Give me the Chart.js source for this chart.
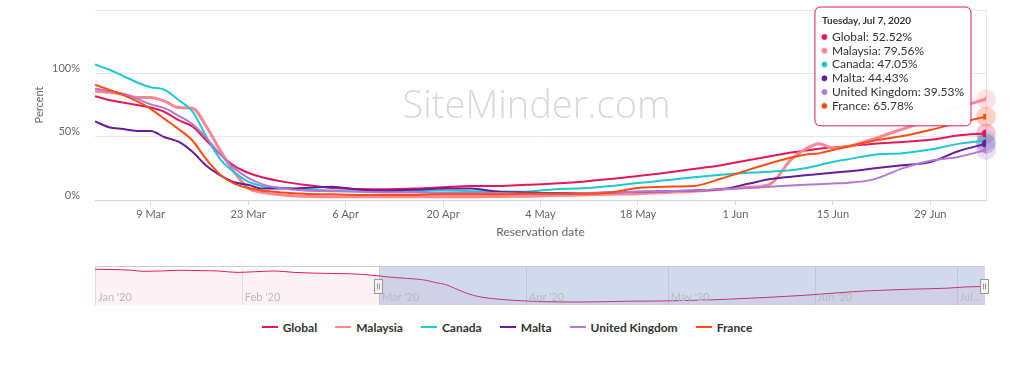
<!DOCTYPE html>
<html>
<head>
<meta charset="utf-8">
<script src="https://cdn.jsdelivr.net/npm/chart.js@4.4.1/dist/chart.umd.min.js"></script>
<style>
  body { margin: 0; background: #fff; font-family: Lato, sans-serif; }
  #wrap { position: relative; width: 1024px; height: 366px; overflow: hidden; }
  #main { position: absolute; left: 0; top: 0; }
  #nav { position: absolute; left: 0; top: 250px; }
  #legend { position: absolute; left: -5px; top: 319px; width: 1024px; display: flex; justify-content: center;
            font: bold 12px Lato, sans-serif; color: #333; }
  #legend .item { display: flex; align-items: center; margin: 0 9px; height: 16px; }
  #legend .swatch { width: 16px; height: 2px; margin-right: 5px; }
</style>
</head>
<body>
<div id="wrap">
  <canvas id="main" width="1024" height="250"></canvas>
  <canvas id="nav" width="1024" height="60"></canvas>
  <div id="legend"></div>
</div>
<script>
// Reservation date, as days after 1 Mar 2020
const days = [0,2,4,6,8,10,12,14,16,18,20,22,24,27,30,34,38,42,46,50,54,58,62,66,70,74,78,82,86,90,94,97,100,102,104,106,108,112,116,120,124,128];

// Percent per series
const globalVals   = [82,79,77,75,73,69.5,63,58,47,36,27,21.5,18,14.5,12,9.5,8.7,8.5,9,10,11,11,12,13,14.5,16.5,19,21.5,24.5,27.5,31.5,34.5,37.5,39,40.5,41.5,42.5,44.5,45.8,47.5,51,52.52];
const malaysiaVals = [86,85,83.5,81,81,78,73,72.5,58,39,22,9.5,6,4,3,2.5,2.5,2.5,2.5,2.5,2.5,2.8,3,3.5,4,4.5,5,6,7,8.5,10,12.5,32,40,44.5,41,42,48.5,56,63.5,73,79.56];
const canadaVals   = [107,103,98,93,89,87,79,70,50,32,22,14.5,11,9.5,8.5,7.5,7,7,7,7.5,7,6.8,6.6,8.5,9.2,11,13.5,15.5,18,20,21.5,22.4,23.5,25,27.5,30,32,35.8,37,39.8,44.3,47.05];
const maltaVals    = [62,57.5,56,54.5,54.5,49.5,46,38,27,19.5,14,12,9,9,9.5,10.5,8,7.5,8,9,9,6.5,6,5.5,5.5,6,6.5,7,7.5,8.4,13,16.5,18.4,19.5,20.5,21.5,22.5,25,27.5,30,38.5,44.43];
const ukVals       = [88,86,84,80,75.5,72.5,66.5,60,49,36,25,17.5,12.5,9,7.5,7,6.5,6,6,5.5,5.5,5.5,5,5,5.5,6,6.5,7,7.5,8.5,9.5,10.5,11.5,12,12.5,13,13.5,16.5,25,31,34,39.53];
const franceVals   = [91,87,83,78,72,64,56,47,32,20,13,9.5,7.5,6,5,4.5,4,4,4,4.5,4.5,4.5,5,5,5,6,9.5,10.5,11,17,24,29,33.5,35.8,36.8,39.5,42,47,50.5,55.3,61,65.78];

const seriesNames  = ['Global', 'Malaysia', 'Canada', 'Malta', 'United Kingdom', 'France'];
const seriesValues = [globalVals, malaysiaVals, canadaVals, maltaVals, ukVals, franceVals];
const seriesColors = ['#e3175b', '#ff8590', '#1ec8d2', '#6a1b9a', '#b478d4', '#ff4d12'];
const seriesWidths = [2, 3, 2, 2, 2, 2];
const seriesSymbols = ['circle', 'triangle', 'rect', 'circle', 'rectRot', 'rect'];

// x axis ticks (days after 1 Mar)
const tickDays   = [8, 22, 36, 50, 64, 78, 92, 106, 120];
const tickLabels = ['9 Mar', '23 Mar', '6 Apr', '20 Apr', '4 May', '18 May', '1 Jun', '15 Jun', '29 Jun'];
const tooltipTitle = 'Tuesday, Jul 7, 2020';

// Navigator: Global from 1 Jan 2020 (days after 1 Jan)
const navEarlyDays = [0, 4, 8, 10, 14, 18, 22, 26, 30, 34, 38, 42, 46, 50, 54, 57];
const navEarlyVals = [101, 100, 98, 95, 96, 98, 97, 96, 92, 94, 96, 92, 90, 89, 88, 86];
const navMarchStart = 60;
const navMonthDays   = [0, 31, 60, 91, 121, 152, 182];
const navMonthLabels = ["Jan '20", "Feb '20", "Mar '20", "Apr '20", "May '20", "Jun '20", "Jul..."];

const lastIndex = days.length - 1;

function withAlpha(hex, a) {
  const n = parseInt(hex.slice(1), 16);
  return `rgba(${n >> 16},${(n >> 8) & 255},${n & 255},${a})`;
}

// watermark + halos behind the lines, crosshair line
const decorPlugin = {
  id: 'decor',
  beforeDatasetsDraw(chart) {
    const { ctx, chartArea } = chart;
    ctx.save();
    ctx.font = "300 38px 'Open Sans', sans-serif";
    ctx.fillStyle = '#d9d9d9';
    ctx.textAlign = 'center';
    ctx.textBaseline = 'middle';
    ctx.fillText('SiteMinder.com', (chartArea.left + chartArea.right) / 2 - 4, (chartArea.top + chartArea.bottom) / 2 + 2);

    const lastPt = chart.getDatasetMeta(0).data[lastIndex];
    ctx.strokeStyle = '#e6e6e6';
    ctx.lineWidth = 1;
    ctx.beginPath();
    ctx.moveTo(Math.round(lastPt.x) + 0.5, chartArea.top);
    ctx.lineTo(Math.round(lastPt.x) + 0.5, chartArea.bottom);
    ctx.stroke();

    chart.data.datasets.forEach((ds, i) => {
      const p = chart.getDatasetMeta(i).data[lastIndex];
      ctx.fillStyle = withAlpha(seriesColors[i], 0.25);
      ctx.beginPath();
      ctx.arc(p.x, p.y, 10, 0, Math.PI * 2);
      ctx.fill();
    });
    ctx.restore();
  }
};

Chart.Tooltip.positioners.besideLast = function (elements) {
  if (!elements.length) return false;
  const ca = this.chart.chartArea;
  return { x: elements[0].element.x - 21, y: ca.top - 3, xAlign: 'right', yAlign: 'top' };
};

const mainChart = new Chart(document.getElementById('main').getContext('2d'), {
  type: 'line',
  data: {
    datasets: seriesNames.map((name, i) => ({
      label: name,
      data: days.map((d, j) => ({ x: d, y: seriesValues[i][j] })),
      borderColor: seriesColors[i],
      backgroundColor: seriesColors[i],
      borderWidth: seriesWidths[i],
      pointStyle: seriesSymbols[i],
      pointRadius: ctx => ctx.dataIndex === lastIndex ? 4 : 0,
      pointHoverRadius: ctx => ctx.dataIndex === lastIndex ? 4 : 0,
      pointBorderWidth: 0,
      cubicInterpolationMode: 'monotone',
      order: seriesNames.length - i,
      fill: false
    }))
  },
  options: {
    responsive: false,
    animation: false,
    events: [],
    layout: { padding: { left: 0, right: 38, top: 10, bottom: 0 } },
    scales: {
      x: {
        type: 'linear',
        min: 0,
        max: days[lastIndex],
        afterBuildTicks: scale => { scale.ticks = tickDays.map(v => ({ value: v })); },
        afterFit: scale => { scale.height = 50; scale.paddingLeft = 0; scale.paddingRight = 0; },
        grid: { drawOnChartArea: false, drawTicks: true, tickLength: 5, color: '#ccd6eb' },
        border: { color: '#ccd6eb' },
        ticks: {
          autoSkip: false, maxRotation: 0, padding: 3,
          color: '#666', font: { family: 'Lato', size: 11 },
          callback: v => tickLabels[tickDays.indexOf(v)]
        },
        title: { display: true, text: 'Reservation date', color: '#666',
                 font: { family: 'Lato', size: 12 }, padding: { top: 0, bottom: 11 } }
      },
      y: {
        min: 0,
        max: 150,
        afterFit: scale => { scale.width = 95; scale.paddingTop = 0; scale.paddingBottom = 0; },
        grid: { color: '#e6e6e6', drawTicks: false },
        border: { display: false },
        ticks: {
          stepSize: 50, padding: 15, labelOffset: -5,
          color: '#666', font: { family: 'Lato', size: 11 },
          callback: v => v === 150 ? '' : v + '%'
        },
        title: { display: true, text: 'Percent', color: '#666',
                 font: { family: 'Lato', size: 11 }, padding: { top: 33, bottom: 0 } }
      }
    },
    plugins: {
      legend: { display: false },
      tooltip: {
        enabled: true,
        position: 'besideLast',
        backgroundColor: 'rgba(255,255,255,0.96)',
        borderColor: seriesColors[0],
        borderWidth: 1,
        cornerRadius: 6,
        caretSize: 0,
        caretPadding: 0,
        padding: { left: 7, right: 7, top: 8, bottom: 13 },
        titleColor: '#333',
        titleFont: { family: 'Lato', size: 10, weight: 'bold' },
        titleMarginBottom: 3,
        bodyColor: '#333',
        bodyFont: { family: 'Lato', size: 12, lineHeight: 1.15 },
        bodySpacing: 0,
        usePointStyle: true,
        boxWidth: 5,
        boxHeight: 5,
        boxPadding: 3,
        itemSort: (a, b) => a.datasetIndex - b.datasetIndex,
        callbacks: {
          title: () => tooltipTitle,
          label: item => `${item.dataset.label}: ${item.parsed.y.toFixed(2)}%`,
          labelColor: item => ({ borderColor: seriesColors[item.datasetIndex], backgroundColor: seriesColors[item.datasetIndex], borderWidth: 0 }),
          labelPointStyle: () => ({ pointStyle: 'circle', rotation: 0 })
        }
      }
    }
  },
  plugins: [decorPlugin]
});

const lastPoint = mainChart.getDatasetMeta(0).data[lastIndex];
mainChart.tooltip.setActiveElements(
  seriesNames.map((_, i) => ({ datasetIndex: i, index: lastIndex })),
  { x: lastPoint.x, y: lastPoint.y }
);
mainChart.update();

// Navigator
const navData = navEarlyDays.map((d, j) => ({ x: d, y: navEarlyVals[j] }))
  .concat(days.map((d, j) => ({ x: d + navMarchStart, y: globalVals[j] })));
const navEnd = days[lastIndex] + navMarchStart;

const navPlugin = {
  id: 'navDecor',
  beforeDatasetsDraw(chart) {
    const { ctx, chartArea, scales } = chart;
    ctx.save();
    ctx.strokeStyle = '#e6e6e6';
    ctx.lineWidth = 1;
    navMonthDays.forEach(d => {
      const x = Math.round(scales.x.getPixelForValue(d)) + 0.5;
      ctx.beginPath(); ctx.moveTo(x, chartArea.top); ctx.lineTo(x, chartArea.bottom); ctx.stroke();
    });
    ctx.restore();
  },
  afterDatasetsDraw(chart) {
    const { ctx, chartArea, scales } = chart;
    const x0 = scales.x.getPixelForValue(navMarchStart);
    const x1 = scales.x.getPixelForValue(navEnd);
    ctx.save();
    ctx.fillStyle = 'rgba(102,133,194,0.3)';
    ctx.fillRect(x0, chartArea.top, x1 - x0, chartArea.bottom - chartArea.top);
    ctx.fillStyle = '#bbb';
    ctx.font = "11px Lato, sans-serif";
    ctx.textBaseline = 'middle';
    navMonthDays.forEach((d, i) => {
      ctx.fillText(navMonthLabels[i], scales.x.getPixelForValue(d) + 3, chartArea.bottom - 8);
    });
    ctx.strokeStyle = '#cccccc';
    ctx.beginPath();
    ctx.moveTo(chartArea.left, chartArea.top + 0.5);
    ctx.lineTo(chartArea.right, chartArea.top + 0.5);
    ctx.stroke();
    [x0, x1].forEach(x => {
      const hx = Math.round(x) - 4.5, hy = chartArea.top + 13.5;
      ctx.fillStyle = '#f2f2f2';
      ctx.strokeStyle = '#999';
      ctx.fillRect(hx, hy, 8, 14);
      ctx.strokeRect(hx, hy, 8, 14);
      ctx.beginPath();
      ctx.moveTo(hx + 3, hy + 4); ctx.lineTo(hx + 3, hy + 10);
      ctx.moveTo(hx + 5, hy + 4); ctx.lineTo(hx + 5, hy + 10);
      ctx.stroke();
    });
    ctx.restore();
  }
};

new Chart(document.getElementById('nav').getContext('2d'), {
  type: 'line',
  data: {
    datasets: [{
      label: seriesNames[0],
      data: navData,
      borderColor: seriesColors[0],
      backgroundColor: withAlpha(seriesColors[0], 0.06),
      borderWidth: 1,
      pointRadius: 0,
      fill: 'origin',
      cubicInterpolationMode: 'monotone'
    }]
  },
  options: {
    responsive: false,
    animation: false,
    events: [],
    layout: { padding: { left: 95, right: 39, top: 16, bottom: 5 } },
    scales: {
      x: { type: 'linear', min: 0, max: navEnd, display: false },
      y: { min: 0, max: 110, display: false }
    },
    plugins: { legend: { display: false }, tooltip: { enabled: false } }
  },
  plugins: [navPlugin]
});

// Legend
const legendEl = document.getElementById('legend');
seriesNames.forEach((name, i) => {
  const item = document.createElement('div');
  item.className = 'item';
  const sw = document.createElement('span');
  sw.className = 'swatch';
  sw.style.background = seriesColors[i];
  const label = document.createElement('span');
  label.textContent = name;
  item.appendChild(sw);
  item.appendChild(label);
  legendEl.appendChild(item);
});
</script>
</body>
</html>
